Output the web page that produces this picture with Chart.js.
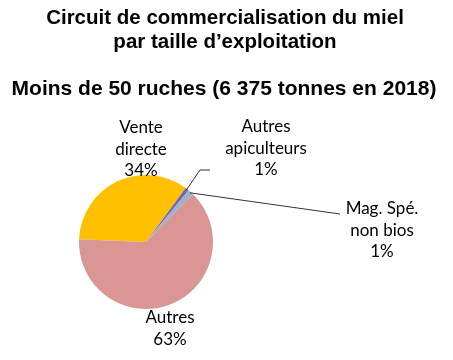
<!DOCTYPE html>
<html>
<head>
<meta charset="utf-8">
<script src="https://cdn.jsdelivr.net/npm/chart.js@4/dist/chart.umd.min.js"></script>
<style>
html,body{margin:0;padding:0;background:#fff;}
#wrap{width:453px;height:360px;position:relative;}
</style>
</head>
<body>
<div id="wrap"><canvas id="c" width="453" height="360"></canvas></div>
<script>
const titleLines = ["Circuit de commercialisation du miel", "par taille d\u2019exploitation"];
const subtitleText = "Moins de 50 ruches (6 375 tonnes en 2018)";
const categories = ["Vente directe", "Autres apiculteurs", "Mag. Sp\u00e9. non bios", "Autres"];
const labelLines = [["Vente", "directe"], ["Autres", "apiculteurs"], ["Mag. Sp\u00e9.", "non bios"], ["Autres"]];
const shares = [34.4, 0.9, 1.3, 63.4];
const colors = ["#FFC000", "#8064A2", "#95B3D7", "#D99694"];

const LABEL_FONT = "17px Lato, 'Open Sans', sans-serif";
const LINE_STEP = 21.5;
// label anchor positions (centre of first text line) and leader-line ends
const labelPos = [
  {x: 141, y: 128, leader: null},
  {x: 266, y: 127, leader: [{x: 200, y: 170}, {x: 210, y: 170}]},
  {x: 382, y: 209, leader: [{x: 340, y: 214}]},
  {x: 170, y: 318, leader: null}
];

const textPlugin = {
  id: 'textPlugin',
  afterDraw(chart) {
    const ctx = chart.ctx;
    ctx.save();
    ctx.fillStyle = '#000';
    ctx.textAlign = 'center';
    ctx.textBaseline = 'middle';
    ctx.font = "bold 20.5px 'Liberation Sans', Arial, sans-serif";
    ctx.fillText(titleLines[0], 225, 18);
    ctx.fillText(titleLines[1], 225, 42);
    ctx.font = "bold 21px 'Liberation Sans', Arial, sans-serif";
    ctx.fillText(subtitleText, 224, 89);

    const meta = chart.getDatasetMeta(0);
    const total = shares.reduce((a, b) => a + b, 0);
    ctx.font = LABEL_FONT;
    meta.data.forEach((arc, i) => {
      const p = labelPos[i];
      const lines = labelLines[i].concat([Math.round(shares[i] / total * 100) + '%']);
      lines.forEach((t, k) => ctx.fillText(t, p.x, p.y + k * LINE_STEP));
      if (p.leader) {
        const props = arc.getProps(['x', 'y', 'startAngle', 'endAngle', 'outerRadius'], true);
        const mid = (props.startAngle + props.endAngle) / 2;
        const sx = props.x + Math.cos(mid) * (props.outerRadius - 1);
        const sy = props.y + Math.sin(mid) * (props.outerRadius - 1);
        ctx.beginPath();
        ctx.strokeStyle = '#000';
        ctx.lineWidth = 0.8;
        ctx.moveTo(sx, sy);
        p.leader.forEach(pt => ctx.lineTo(pt.x, pt.y));
        ctx.stroke();
      }
    });
    ctx.restore();
  }
};

new Chart(document.getElementById('c'), {
  type: 'pie',
  data: {
    labels: categories,
    datasets: [{
      data: shares,
      backgroundColor: colors,
      borderWidth: 0
    }]
  },
  options: {
    responsive: false,
    animation: false,
    rotation: -87.6,
    layout: {padding: {left: 79, right: 240, top: 175, bottom: 51}},
    plugins: {
      legend: {display: false},
      title: {display: false},
      tooltip: {enabled: false}
    }
  },
  plugins: [textPlugin]
});
</script>
</body>
</html>
